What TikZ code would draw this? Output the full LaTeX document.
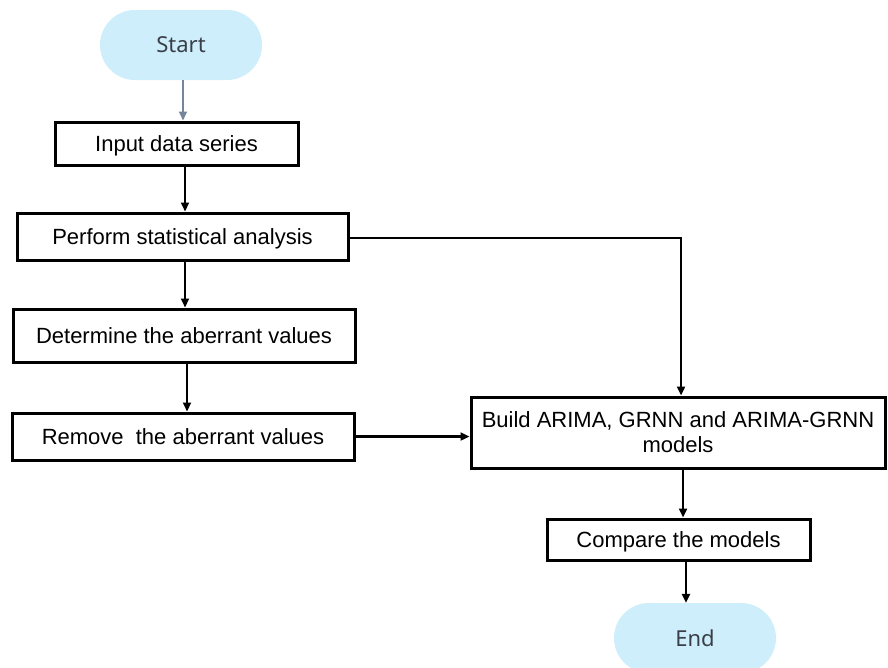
\documentclass[tikz,border=0pt]{standalone}
\usepackage{fontspec}
\setmainfont{Liberation Sans}
\newfontfamily\termfont{Noto Sans}
\usetikzlibrary{arrows.meta}
\definecolor{termfill}{HTML}{CDEEFA}
\definecolor{termtext}{HTML}{3A3F47}
\definecolor{greyarrow}{HTML}{76869A}
\tikzset{
  procbox/.style={draw=black, line width=3pt, rectangle, fill=white, font=\fontsize{22}{25}\selectfont, inner sep=2pt, text depth=0pt},
  termbox/.style={fill=termfill, rectangle, rounded corners=35pt, minimum width=162pt, minimum height=70pt, font=\termfont\fontsize{22}{25}\selectfont, text=termtext},
  flow/.style={line width=2.2pt, -{Triangle[length=9pt,width=8pt]}},
}
\begin{document}
\begin{tikzpicture}[x=1pt,y=-1pt]
\useasboundingbox (0,0) rectangle (888,667);
\node[termbox] (start) at (181,45) {Start};
\node[procbox, minimum width=243pt, minimum height=43pt] (input) at (176.5,143.5) {Input data series};
\node[procbox, minimum width=331pt, minimum height=47pt] (perf) at (182.5,236.5) {Perform statistical analysis};
\node[procbox, minimum width=342pt, minimum height=53pt] (det) at (184,335.5) {Determine the aberrant values};
\node[procbox, minimum width=342pt, minimum height=47pt] (rem) at (183,436.5) {Remove\ \ the aberrant values};
\node[procbox, minimum width=414pt, minimum height=71pt, align=center] (build) at (678,432.5) {Build ARIMA, GRNN and ARIMA-GRNN\\ models};
\node[procbox, minimum width=263pt, minimum height=41pt] (comp) at (678.5,539.5) {Compare the models};
\node[termbox] (end) at (695,638) {End};

\draw[flow, draw=greyarrow, fill=greyarrow, line width=1.6pt] (start.south -| 183,0) -- (input.north -| 183,0);
\draw[flow] (input.south -| 185,0) -- (perf.north -| 185,0);
\draw[flow] (perf.south -| 185,0) -- (det.north -| 185,0);
\draw[flow] (det.south -| 187,0) -- (rem.north -| 187,0);
\draw[flow] (rem.east) -- (rem.east -| build.west);
\draw[flow] ([yshift=-1.5pt]perf.east) -| ([xshift=3pt]build.north);
\draw[flow] (build.south -| 683,0) -- (comp.north -| 683,0);
\draw[flow] (comp.south -| 686,0) -- (end.north -| 686,0);
\end{tikzpicture}
\end{document}
